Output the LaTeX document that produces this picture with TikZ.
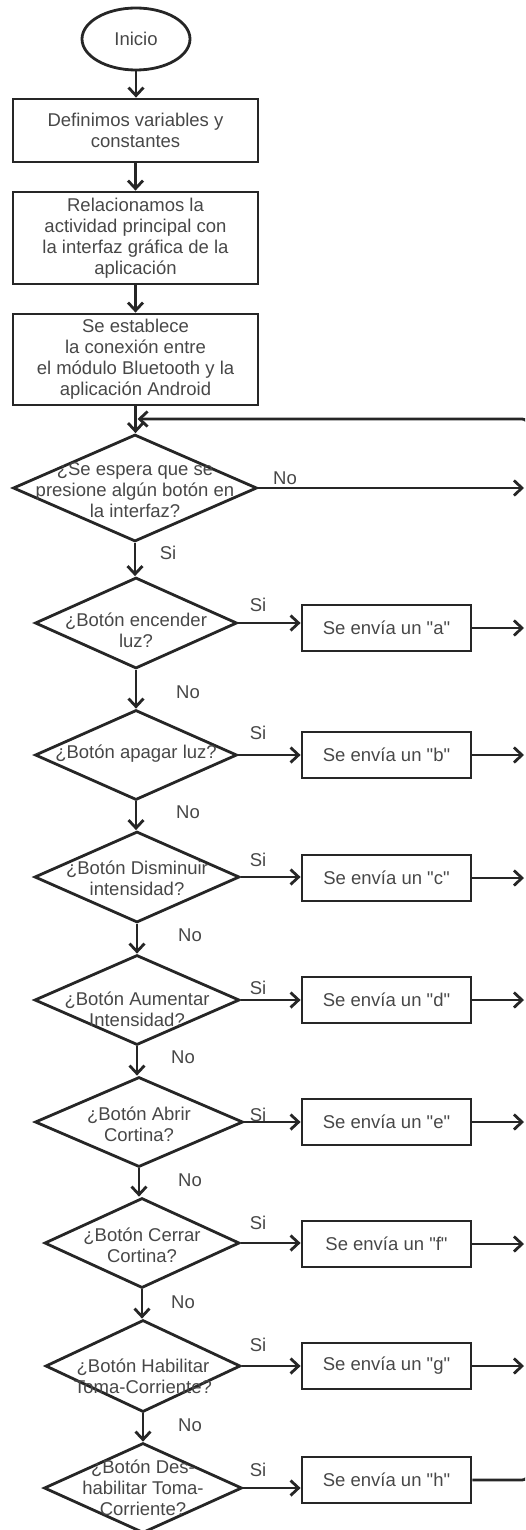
\documentclass[tikz,border=0pt]{standalone}
\usepackage{fontspec}
\setmainfont{Liberation Sans}[Ligatures=TeXOff]
\usetikzlibrary{shapes.geometric,arrows.meta}
\tikzset{
  every node/.style={font=\fontsize{18.5}{21}\selectfont, text=black!72},
  line/.style={draw=black!85, line width=2.8pt},
  arr/.style={line, -{Straight Barb[length=8pt,width=15pt]}},
  term/.style={ellipse, line, minimum width=108pt, minimum height=62pt, inner sep=0pt},
  procbox/.style={rectangle, line, inner sep=0pt, align=center, minimum width=245pt},
  sendbox/.style={rectangle, line, inner sep=0pt, minimum width=169pt, minimum height=46pt},
  decision/.style={diamond, line, inner sep=0pt},
  txt/.style={align=center, inner sep=0pt},
  lbl/.style={inner sep=0pt},
}
\begin{document}
\begin{tikzpicture}[x=1pt,y=-1pt]
\useasboundingbox (0,0) rectangle (525,1530);
\clip (0,0) rectangle (525,1530);

% main column
\node[term] (start) at (136,39) {Inicio};
\node[procbox, minimum height=63pt] (b1) at (135.5,130.5) {Definimos variables y\\constantes};
\node[procbox, minimum height=92pt] (b2) at (135.5,238) {Relacionamos la\\actividad principal con\\la interfaz gráfica de la\\aplicación};
\node[procbox, minimum height=91pt] (b3) at (135.5,359.5) {Se establece\\la conexión entre\\el módulo Bluetooth y la\\aplicación Android};

% decisions
\node[decision, minimum width=244pt, minimum height=107pt] (d1) at (135,488) {};
\node[txt] (d1t) at (135,490) {¿Se espera que se\\presione algún botón en\\la interfaz?};
\node[decision, minimum width=202pt, minimum height=91pt] (d2) at (136,623) {};
\node[txt] (d2t) at (136,630) {¿Botón encender\\luz?};
\node[decision, minimum width=202pt, minimum height=90pt] (d3) at (136,755) {};
\node[txt] (d3t) at (136,754) {¿Botón apagar luz?};
\node[decision, minimum width=205pt, minimum height=91pt] (d4) at (137,877) {};
\node[txt] (d4t) at (137,878) {¿Botón Disminuir\\intensidad?};
\node[decision, minimum width=205pt, minimum height=90pt] (d5) at (137,1000) {};
\node[txt] (d5t) at (137,1009) {¿Botón Aumentar\\Intensidad?};
\node[decision, minimum width=208pt, minimum height=90pt] (d6) at (139,1122) {};
\node[txt] (d6t) at (139,1124) {¿Botón Abrir\\Cortina?};
\node[decision, minimum width=195pt, minimum height=90pt] (d7) at (142,1243) {};
\node[txt] (d7t) at (142,1245) {¿Botón Cerrar\\Cortina?};
\node[decision, minimum width=195pt, minimum height=92pt] (d8) at (143,1366) {};
\node[txt] (d8t) at (143,1376) {¿Botón Habilitar\\Toma-Corriente?};
\node[decision, minimum width=198pt, minimum height=90pt] (d9) at (143,1488) {};
\node[txt] (d9t) at (143,1488) {¿Botón Des-\\habilitar Toma-\\Corriente?};

% send boxes
\node[sendbox] (sa) at (386.5,628) {Se envía un "a"};
\node[sendbox] (sb) at (386.5,755) {Se envía un "b"};
\node[sendbox] (sc) at (386.5,878) {Se envía un "c"};
\node[sendbox] (sd) at (386.5,1000) {Se envía un "d"};
\node[sendbox] (se) at (386.5,1122) {Se envía un "e"};
\node[sendbox] (sf) at (386.5,1244) {Se envía un "f"};
\node[sendbox] (sg) at (386.5,1366) {Se envía un "g"};
\node[sendbox] (sh) at (386.5,1480) {Se envía un "h"};

% loop coordinates
\coordinate (o1) at (524,488);
\coordinate (oa) at (524,628);
\coordinate (ob) at (524,755);
\coordinate (oc) at (524,878);
\coordinate (od) at (524,1000);
\coordinate (oe) at (524,1122);
\coordinate (of) at (524,1244);
\coordinate (og) at (524,1366);
\coordinate (loopB) at (528,1480);
\coordinate (loopT) at (528,419);
\coordinate (loopIn) at (137.5,419);

% vertical flow
\draw[arr] (start.south) -- (start.south |- b1.north);
\draw[arr] (b1.south) -- (b1.south |- b2.north);
\draw[arr] (b2.south) -- (b2.south |- b3.north);
\draw[arr] (b3.south) -- (b3.south |- d1.north);
\draw[arr] (d1.south) -- (d1.south |- d2.north);
\draw[arr] (d2.south) -- (d2.south |- d3.north);
\draw[arr] (d3.south) -- (d3.south |- d4.north);
\draw[arr] (d4.south) -- (d4.south |- d5.north);
\draw[arr] (d5.south) -- (d5.south |- d6.north);
\draw[arr] (d6.south) -- (d6.south |- d7.north);
\draw[arr] (d7.south) -- (d7.south |- d8.north);
\draw[arr] (d8.south) -- (d8.south |- d9.north);

% yes branches
\draw[arr] (d2.east) -- (sa.west |- d2.east);
\draw[arr] (d3.east) -- (sb.west |- d3.east);
\draw[arr] (d4.east) -- (sc.west |- d4.east);
\draw[arr] (d5.east) -- (sd.west |- d5.east);
\draw[arr] (d6.east) -- (se.west |- d6.east);
\draw[arr] (d7.east) -- (sf.west |- d7.east);
\draw[arr] (d8.east) -- (sg.west |- d8.east);
\draw[arr] (d9.east) -- (sh.west |- d9.east);

% outputs to loop
\draw[arr] (d1.east) -- (o1);
\draw[arr] (sa.east) -- (oa);
\draw[arr] (sb.east) -- (ob);
\draw[arr] (sc.east) -- (oc);
\draw[arr] (sd.east) -- (od);
\draw[arr] (se.east) -- (oe);
\draw[arr] (sf.east) -- (of);
\draw[arr] (sg.east) -- (og);
\draw[arr, rounded corners=6pt] (sh.east) -- (loopB) -- (loopT) -- (loopIn);

% labels
\node[lbl] (l1no) at (285,478) {No};
\node[lbl] (l1si) at (168,553) {Si};
\node[lbl] (l2si) at (258,605) {Si};
\node[lbl] (l2no) at (188,692) {No};
\node[lbl] (l3si) at (258,733) {Si};
\node[lbl] (l3no) at (188,812) {No};
\node[lbl] (l4si) at (258,860) {Si};
\node[lbl] (l4no) at (190,935) {No};
\node[lbl] (l5si) at (258,988) {Si};
\node[lbl] (l5no) at (183,1057) {No};
\node[lbl] (l6si) at (258,1115) {Si};
\node[lbl] (l6no) at (190,1180) {No};
\node[lbl] (l7si) at (258,1223) {Si};
\node[lbl] (l7no) at (183,1302) {No};
\node[lbl] (l8si) at (258,1345) {Si};
\node[lbl] (l8no) at (190,1425) {No};
\node[lbl] (l9si) at (258,1470) {Si};
\end{tikzpicture}
\end{document}
